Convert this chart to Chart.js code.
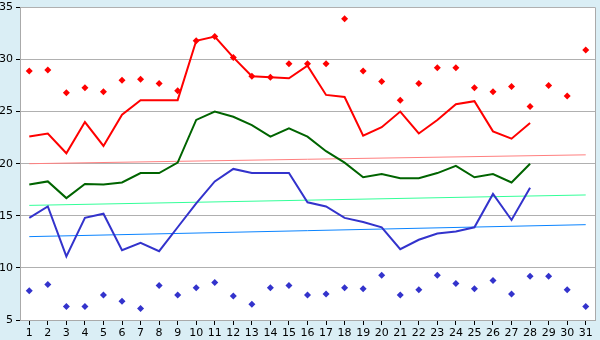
<!DOCTYPE html>
<html>
<head>
<meta charset="utf-8">
<script src="https://cdn.jsdelivr.net/npm/chart.js@4/dist/chart.umd.min.js"></script>
<style>
html,body{margin:0;padding:0;background:#daeef5;}
#wrap{width:600px;height:340px;position:relative;}
</style>
</head>
<body>
<div id="wrap"><canvas id="c" width="600" height="340"></canvas></div>
<script>
const days = ['1','2','3','4','5','6','7','8','9','10','11','12','13','14','15','16','17','18','19','20','21','22','23','24','25','26','27','28','29','30','31'];
const yTicks = [5,10,15,20,25,30,35];

const maxTemp = [22.6,22.9,21.0,24.0,21.7,24.7,26.1,26.1,26.1,31.8,32.2,30.2,28.4,28.3,28.2,29.4,26.6,26.4,22.7,23.5,25.0,22.9,24.2,25.7,26.0,23.1,22.4,23.9,null,null,null];
const meanTemp = [18.0,18.3,16.7,18.05,18.0,18.2,19.1,19.1,20.1,24.2,25.0,24.5,23.7,22.6,23.4,22.6,21.2,20.1,18.7,19.0,18.6,18.6,19.1,19.8,18.7,19.0,18.2,20.0,null,null,null];
const minTemp = [14.8,15.9,11.1,14.8,15.2,11.7,12.4,11.6,13.9,16.2,18.3,19.5,19.1,19.1,19.1,16.3,15.9,14.8,14.4,13.9,11.8,12.7,13.3,13.5,13.9,17.1,14.6,17.7,null,null,null];
const recordMax = [28.9,29.0,26.8,27.3,26.9,28.0,28.1,27.7,27.0,31.8,32.2,30.2,28.4,28.3,29.6,29.6,29.6,33.9,28.9,27.9,26.1,27.7,29.2,29.2,27.3,26.9,27.4,25.5,27.5,26.5,30.9];
const recordMin = [7.8,8.4,6.3,6.3,7.4,6.8,6.1,8.3,7.4,8.1,8.6,7.3,6.5,8.1,8.3,7.4,7.5,8.1,8.0,9.3,7.4,7.9,9.3,8.5,8.0,8.8,7.5,9.2,9.2,7.9,6.3];
const maxTrend = [20.0,null,null,null,null,null,null,null,null,null,null,null,null,null,null,null,null,null,null,null,null,null,null,null,null,null,null,null,null,null,20.85];
const meanTrend = [16.0,null,null,null,null,null,null,null,null,null,null,null,null,null,null,null,null,null,null,null,null,null,null,null,null,null,null,null,null,null,17.0];
const minTrend = [13.0,null,null,null,null,null,null,null,null,null,null,null,null,null,null,null,null,null,null,null,null,null,null,null,null,null,null,null,null,null,14.15];

const plotBg = {
  id:'plotBg',
  beforeDraw(chart){
    const {ctx, chartArea:a} = chart;
    ctx.save();
    ctx.fillStyle = '#ffffff';
    ctx.fillRect(a.left, a.top, a.right-a.left, a.bottom-a.top);
    ctx.restore();
  },
  afterDatasetsDraw(chart){
    const {ctx, chartArea:a} = chart;
    ctx.save();
    ctx.strokeStyle = '#aaaaaa';
    ctx.lineWidth = 1;
    ctx.beginPath();
    ctx.moveTo(Math.round(a.right)+0.5, a.top);
    ctx.lineTo(Math.round(a.right)+0.5, a.bottom);
    ctx.stroke();
    ctx.restore();
  }
};

const font = {family:'DejaVu Sans', size:11};

new Chart(document.getElementById('c'), {
  type:'line',
  data:{
    labels: days,
    datasets:[
      {data:maxTrend, borderColor:'#ff8080', borderWidth:1, pointRadius:0, spanGaps:true, order:10},
      {data:meanTrend, borderColor:'#33ff99', borderWidth:1, pointRadius:0, spanGaps:true, order:10},
      {data:minTrend, borderColor:'#0a84ff', borderWidth:1, pointRadius:0, spanGaps:true, order:10},
      {data:maxTemp, borderColor:'#ff0000', borderWidth:2, pointRadius:0, order:5},
      {data:meanTemp, borderColor:'#006400', borderWidth:2, pointRadius:0, order:5},
      {data:minTemp, borderColor:'#3333cc', borderWidth:2, pointRadius:0, order:5},
      {data:recordMax, showLine:false, pointStyle:'rectRot', pointRadius:3.5, backgroundColor:'#ff0000', borderColor:'#ff0000', borderWidth:0, order:1},
      {data:recordMin, showLine:false, pointStyle:'rectRot', pointRadius:3.5, backgroundColor:'#3333cc', borderColor:'#3333cc', borderWidth:0, order:1}
    ]
  },
  options:{
    responsive:false,
    animation:false,
    events:[],
    layout:{padding:{left:0, right:5, top:5, bottom:0}},
    plugins:{legend:{display:false}, tooltip:{enabled:false}},
    scales:{
      x:{
        offset:true,
        grid:{display:true, drawOnChartArea:false, drawTicks:true, tickLength:5, tickColor:'#000000'},
        border:{color:'#aaaaaa'},
        ticks:{color:'#000000', font, padding:2, maxRotation:0, autoSkip:false},
        afterFit(s){ s.height = 20; }
      },
      y:{
        min:5, max:35,
        afterBuildTicks(s){ s.ticks = yTicks.map(v=>({value:v})); },
        grid:{color:'#b0b0b0', tickLength:4, tickColor:'#000000'},
        border:{color:'#aaaaaa'},
        ticks:{color:'#000000', font:{family:'DejaVu Sans', size:11, lineHeight:0.8}, padding:3},
        afterFit(s){ s.width = 20; }
      }
    }
  },
  plugins:[plotBg]
});
</script>
</body>
</html>
